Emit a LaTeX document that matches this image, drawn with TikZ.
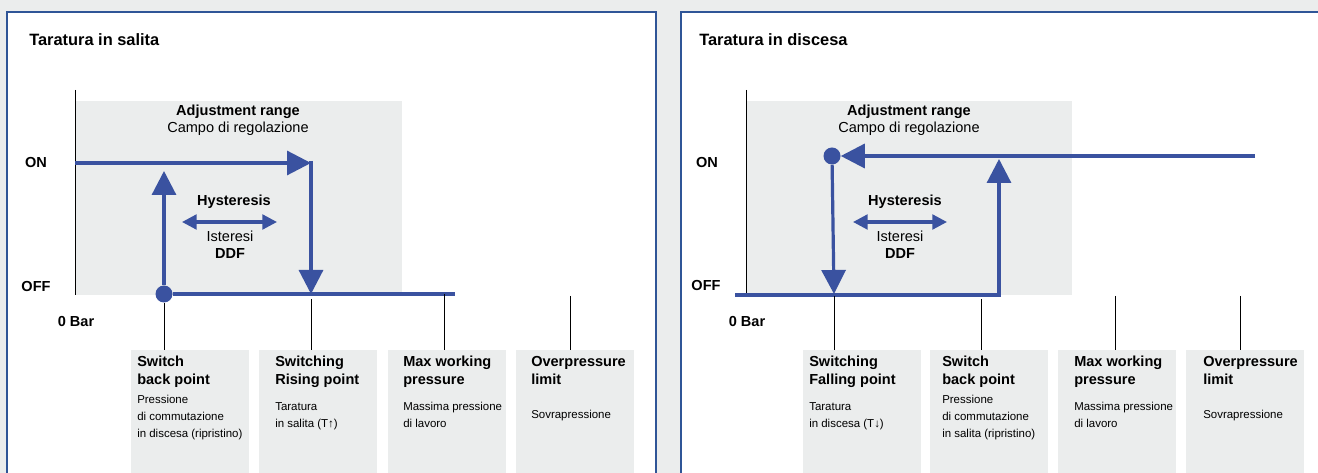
\documentclass[tikz,border=0pt]{standalone}
\usepackage{fontspec}
\setmainfont{Liberation Sans}
\usetikzlibrary{arrows.meta}
\usetikzlibrary{positioning}

\definecolor{lineblue}{RGB}{58,82,160}
\definecolor{frameblue}{RGB}{47,85,151}
\definecolor{bggray}{RGB}{235,237,237}

\begin{document}
\begin{tikzpicture}[x=0.75pt,y=-0.75pt,
  flow/.style={draw=lineblue,line width=2.4pt},
  bigtip/.style={arrows={-Triangle[length=18pt,width=18pt]}},
  smalltip/.style={arrows={Triangle[length=11pt,width=11pt]-Triangle[length=11pt,width=11pt]}},
  dot/.style={circle,fill=lineblue,inner sep=0pt,minimum size=12.75pt},
  tick/.style={draw=black,line width=0.75pt},
  frame/.style={draw=frameblue,line width=1.1pt,fill=white},
  infobox/.style={fill=bggray,anchor=north west,minimum width=88.5pt,minimum height=100pt,inner sep=0pt},
  boxhead/.style={anchor=north west,align=left,inner sep=0pt,font=\fontsize{10.9}{13.5}\selectfont\bfseries},
  boxtext/.style={anchor=north west,align=left,inner sep=0pt,font=\fontsize{8.6}{12.75}\selectfont},
  lbl/.style={inner sep=0pt,align=center,font=\fontsize{10.9}{12.5}\selectfont},
  axislbl/.style={inner sep=0pt,font=\fontsize{10.9}{12.5}\selectfont\bfseries},
  paneltitle/.style={anchor=west,inner sep=0pt,font=\fontsize{12.3}{14}\selectfont\bfseries}]
  \useasboundingbox (0,0) rectangle (1318,473);
  \clip (0,0) rectangle (1318,473);
  \fill[bggray] (0,0) rectangle (1318,473);

  % panels
  \draw[frame] (7,12) rectangle (656,490);
  \draw[frame] (681,12) rectangle (1340,490);
  \node[paneltitle] (tup) at (29,40) {Taratura in salita};
  \node[paneltitle] (tdown) at (699,40) {Taratura in discesa};

  % adjustment range
  \fill[bggray] (76,101) rectangle (402,295);
  \fill[bggray] (747,101) rectangle (1072,295);
  \draw[tick] (75,90) -- (75,295);
  \draw[tick] (746,90) -- (746,295);
  \node[lbl] (adjL) at (238,120) {\textbf{Adjustment range}\\Campo di regolazione};
  \node[lbl] (adjR) at (909,120) {\textbf{Adjustment range}\\Campo di regolazione};

  % axis labels
  \node[axislbl] (onL) at (36,163) {ON};
  \node[axislbl] (offL) at (36,287) {OFF};
  \node[axislbl] (barL) at (76,322) {0 Bar};
  \node[axislbl] (onR) at (707,163) {ON};
  \node[axislbl] (offR) at (706,286) {OFF};
  \node[axislbl] (barR) at (747,322) {0 Bar};

  % hysteresis
  \node[lbl] (hystL) at (234,202) {\textbf{Hysteresis}};
  \node[lbl] (istL) at (230,245) {Isteresi\\\textbf{DDF}};
  \coordinate (hlL) at (182,222);
  \coordinate (hrL) at (277,222);
  \draw[flow,smalltip] (hlL) -- (hrL);
  \node[lbl] (hystR) at (905,202) {\textbf{Hysteresis}};
  \node[lbl] (istR) at (900,245) {Isteresi\\\textbf{DDF}};
  \coordinate (hlR) at (853,222);
  \coordinate (hrR) at (947,222);
  \draw[flow,smalltip] (hlR) -- (hrR);

  % bottom boxes
  \node[infobox] (b1) at (131,350) {};
  \node[infobox] (b2) at (259,350) {};
  \node[infobox] (b3) at (388,350) {};
  \node[infobox] (b4) at (516,350) {};
  \node[infobox] (r1) at (803,350) {};
  \node[infobox] (r2) at (930,350) {};
  \node[infobox] (r3) at (1058,350) {};
  \node[infobox] (r4) at (1186,350) {};

  \node[boxhead] (h1) at (137,356) {Switch\\back point};
  \node[boxtext] (s1) at (137,395) {Pressione\\di commutazione\\in discesa (ripristino)};
  \node[boxhead] (h2) at (275,356) {Switching\\Rising point};
  \node[boxtext] (s2) at (275,402) {Taratura\\in salita (T↑)};
  \node[boxhead] (h3) at (403,356) {Max working\\pressure};
  \node[boxtext] (s3) at (403,402) {Massima pressione\\di lavoro};
  \node[boxhead] (h4) at (531,356) {Overpressure\\limit};
  \node[boxtext] (s4) at (531,410) {Sovrapressione};

  \node[boxhead] (g1) at (809,356) {Switching\\Falling point};
  \node[boxtext] (u1) at (809,402) {Taratura\\in discesa (T↓)};
  \node[boxhead] (g2) at (942,356) {Switch\\back point};
  \node[boxtext] (u2) at (942,395) {Pressione\\di commutazione\\in salita (ripristino)};
  \node[boxhead] (g3) at (1074,356) {Max working\\pressure};
  \node[boxtext] (u3) at (1074,402) {Massima pressione\\di lavoro};
  \node[boxhead] (g4) at (1203,356) {Overpressure\\limit};
  \node[boxtext] (u4) at (1203,410) {Sovrapressione};

  % rising curve
  \node[dot] (sbL) at (164,294) {};
  \coordinate (on0L) at (75,163);
  \coordinate (riseL) at (311,163);
  \coordinate (risetopL) at (311,161);
  \coordinate (risebotL) at (311,294);
  \coordinate (sbtopL) at (164,171);
  \coordinate (offendL) at (455,294);
  \draw[flow] (sbL) -- (offendL);
  \draw[flow,bigtip] (on0L) -- (riseL);
  \draw[flow,bigtip] (risetopL) -- (risebotL);
  \draw[flow,bigtip] (sbL) -- (sbtopL);

  % falling curve
  \node[dot] (fbR) at (832,156) {};
  \coordinate (onendR) at (1255,156);
  \coordinate (fbbotR) at (834,294);
  \coordinate (off0R) at (735,295);
  \coordinate (cornerR) at (999,295);
  \coordinate (sbtopR) at (999,159);
  \draw[flow,bigtip] (onendR) -- (fbR);
  \draw[flow,bigtip] (fbR) -- (fbbotR);
  \draw[flow,bigtip] (off0R) -- (cornerR) -- (sbtopR);

  % ticks
  \coordinate (t2L) at (311,299);
  \coordinate (t3L) at (444,294);
  \coordinate (t4L) at (570,296);
  \draw[tick] (sbL) -- (sbL |- b1.north);
  \draw[tick] (t2L) -- (t2L |- b2.north);
  \draw[tick] (t3L) -- (t3L |- b3.north);
  \draw[tick] (t4L) -- (t4L |- b4.north);
  \coordinate (t1R) at (834,296);
  \coordinate (t2R) at (981,299);
  \coordinate (t3R) at (1115,296);
  \coordinate (t4R) at (1240,296);
  \draw[tick] (t1R) -- (t1R |- r1.north);
  \draw[tick] (t2R) -- (t2R |- r2.north);
  \draw[tick] (t3R) -- (t3R |- r3.north);
  \draw[tick] (t4R) -- (t4R |- r4.north);
\end{tikzpicture}
\end{document}
